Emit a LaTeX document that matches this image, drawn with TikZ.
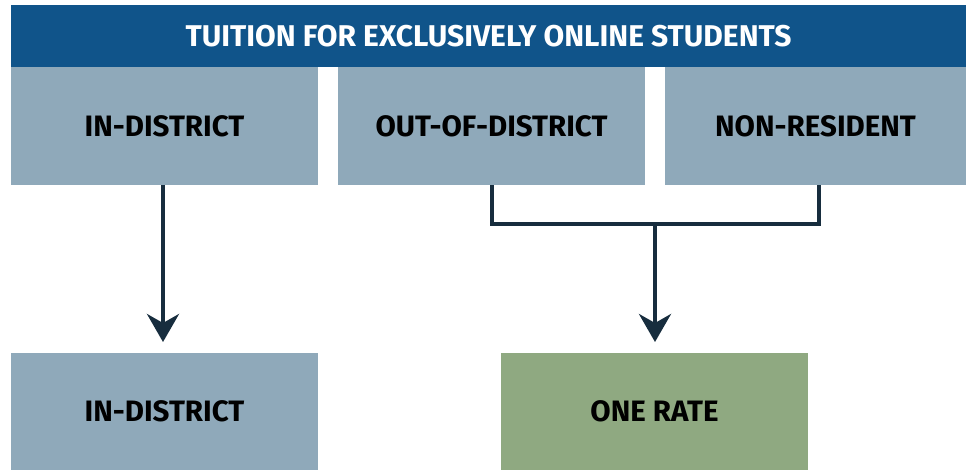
\documentclass[tikz,border=0pt]{standalone}
\usepackage{fontspec}
\setmainfont{Fira Sans}
\usetikzlibrary{arrows.meta}
\definecolor{headblue}{HTML}{10548A}
\definecolor{boxgray}{HTML}{8FA9BA}
\definecolor{boxgreen}{HTML}{8FA981}
\definecolor{linenavy}{HTML}{172D3E}
\tikzset{
  box/.style={fill=boxgray, inner sep=0pt, font=\fontsize{29.5}{34}\selectfont\bfseries},
  greenbox/.style={box, fill=boxgreen},
  conn/.style={draw=linenavy, line width=4pt},
  arr/.style={conn, -{Stealth[length=28pt, width=32pt, inset=9pt]}},
}
\begin{document}
\begin{tikzpicture}[x=1pt,y=-1pt]
\useasboundingbox (0,0) rectangle (966,473);
\node[fill=headblue, text=white, inner sep=0pt, font=\fontsize{30}{34}\selectfont\bfseries,
  minimum width=955pt, minimum height=62pt] (head) at (488.5,36) {TUITION FOR EXCLUSIVELY ONLINE STUDENTS};
\node[box, minimum width=307pt, minimum height=118pt] (ind) at (164.5,126) {IN-DISTRICT};
\node[box, minimum width=307pt, minimum height=118pt] (ood) at (491.5,126) {OUT-OF-DISTRICT};
\node[box, minimum width=301pt, minimum height=118pt] (nr) at (815.5,126) {NON-RESIDENT};
\node[box, minimum width=307pt, minimum height=117pt] (ind2) at (164.5,411.5) {IN-DISTRICT};
\node[greenbox, minimum width=307pt, minimum height=117pt] (one) at (654.5,411.5) {ONE RATE};
\coordinate (join) at (655,224);
\draw[arr] (163,185) -- (163,342);
\draw[conn] (ood.south) -- (ood.south |- join) -- (join -| 819,0) -- (819,185);
\draw[arr] (join) -- (655,342);
\end{tikzpicture}
\end{document}
